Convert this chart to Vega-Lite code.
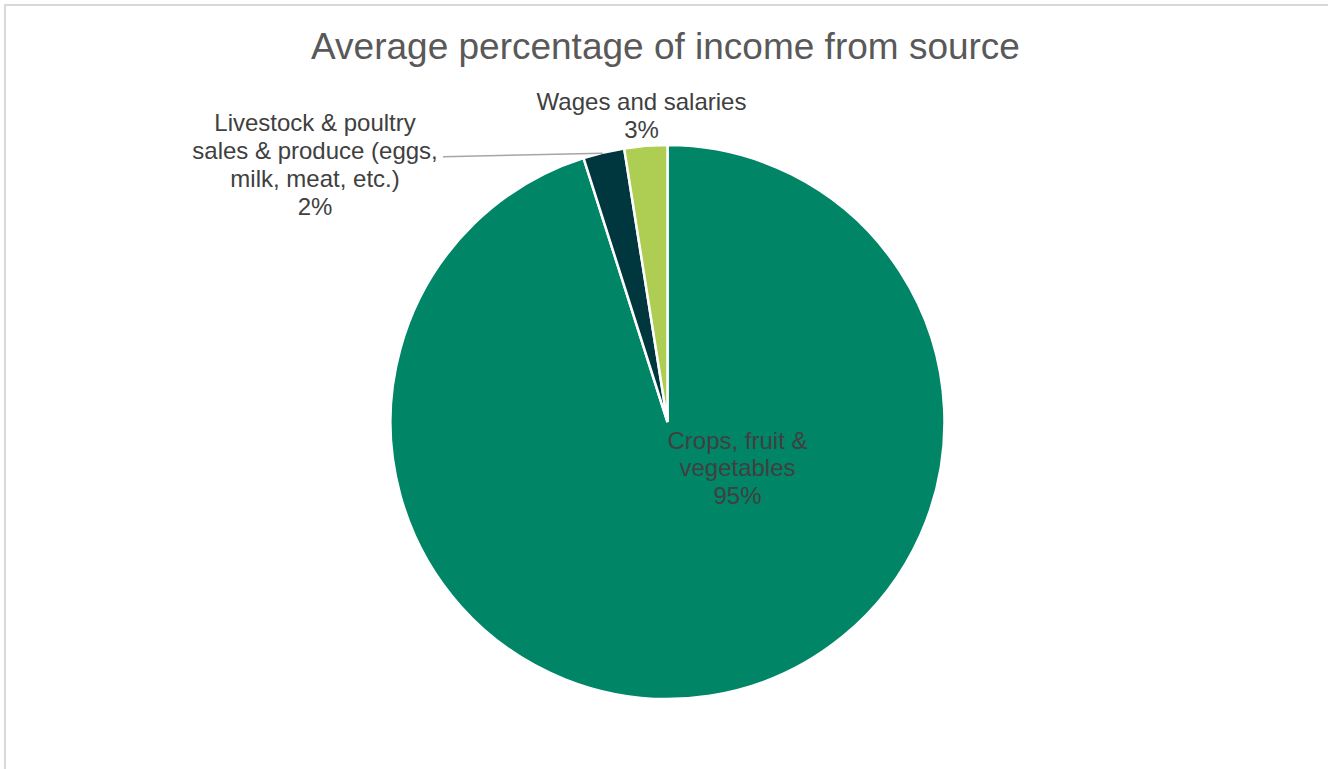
{
  "$schema": "https://vega.github.io/schema/vega-lite/v6.json",
  "autosize": {"type": "none"},
  "width": 1325,
  "height": 834,
  "padding": {"left": 5, "top": 5, "right": -2, "bottom": -70},
  "background": "white",
  "view": {"stroke": "#d9d9d9", "strokeWidth": 2, "fill": "white"},
  "config": {
    "view": {"stroke": "#d9d9d9", "strokeWidth": 2},
    "font": "Liberation Sans"
  },
  "title": {
    "text": "Average percentage of income from source",
    "font": "Liberation Sans",
    "fontSize": 37,
    "fontWeight": "normal",
    "color": "#595959",
    "anchor": "middle",
    "frame": "group",
    "baseline": "alphabetic",
    "offset": -91,
    "dx": -2
  },
  "data": {
    "values": [
      {"source": "Crops, fruit & vegetables", "share": 95.1, "order": 1, "label": "Crops, fruit &\nvegetables\n95%"},
      {"source": "Livestock & poultry sales & produce (eggs, milk, meat, etc.)", "share": 2.4, "order": 2, "label": "Livestock & poultry\nsales & produce (eggs,\nmilk, meat, etc.)\n2%"},
      {"source": "Wages and salaries", "share": 2.5, "order": 3, "label": "Wages and salaries\n3%"}
    ]
  },
  "layer": [
    {
      "mark": {"type": "arc", "outerRadius": 277, "stroke": "white", "strokeWidth": 2.5},
      "encoding": {
        "theta": {"field": "share", "type": "quantitative", "stack": true},
        "order": {"field": "order", "type": "quantitative"},
        "color": {
          "field": "source",
          "type": "nominal",
          "scale": {
            "domain": ["Crops, fruit & vegetables", "Livestock & poultry sales & produce (eggs, milk, meat, etc.)", "Wages and salaries"],
            "range": ["#008566", "#00373e", "#adcd53"]
          },
          "legend": null
        }
      }
    },
    {
      "transform": [{"filter": "datum.order == 2"}],
      "mark": {"type": "rule", "stroke": "#a6a6a6", "strokeWidth": 1.5},
      "encoding": {
        "x": {"value": 438},
        "y": {"value": 151.7},
        "x2": {"value": 597.7},
        "y2": {"value": 148.3}
      }
    },
    {
      "transform": [{"filter": "datum.order == 1"}],
      "mark": {"type": "text", "theta": 1.9387, "radius": 75, "align": "center", "baseline": "alphabetic", "lineBreak": "\n", "lineHeight": 27.5, "fontSize": 24, "font": "Liberation Sans", "fill": "#404040"},
      "encoding": {"text": {"field": "label", "type": "nominal"}}
    },
    {
      "transform": [{"filter": "datum.order == 2"}],
      "mark": {"type": "text", "theta": -0.8806, "radius": 457.1, "align": "center", "baseline": "alphabetic", "lineBreak": "\n", "lineHeight": 28, "fontSize": 24, "font": "Liberation Sans", "fill": "#404040"},
      "encoding": {"text": {"field": "label", "type": "nominal"}}
    },
    {
      "transform": [{"filter": "datum.order == 3"}],
      "mark": {"type": "text", "theta": -0.0831, "radius": 313.1, "align": "center", "baseline": "alphabetic", "lineBreak": "\n", "lineHeight": 28, "fontSize": 24, "font": "Liberation Sans", "fill": "#404040"},
      "encoding": {"text": {"field": "label", "type": "nominal"}}
    }
  ]
}
